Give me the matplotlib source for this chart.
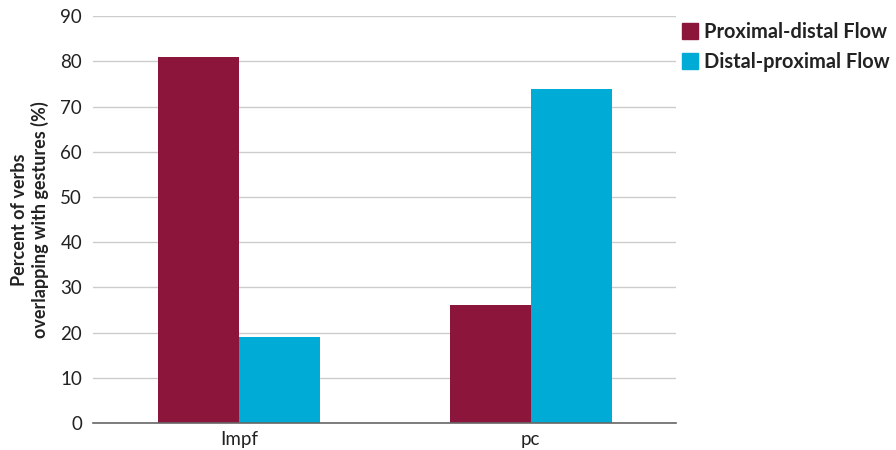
import numpy as np
import matplotlib.pyplot as plt
from matplotlib.lines import Line2D

plt.rcParams['font.family'] = ['Lato', 'DejaVu Sans']

# Data
categories = ['Impf', 'pc']
series_names = ['Proximal-distal Flow', 'Distal-proximal Flow']
proximal_distal = [81, 26]
distal_proximal = [19, 74]
colors = ['#8C153B', '#00ACD6']

fig = plt.figure(figsize=(8.96, 4.5), dpi=100)
ax = fig.add_axes([0.104, 0.06, 0.651, 0.904])

x = np.arange(len(categories))
width = 0.278
ax.bar(x - width / 2, proximal_distal, width, color=colors[0], zorder=3)
ax.bar(x + width / 2, distal_proximal, width, color=colors[1], zorder=3)

ax.set_xlim(-0.5, 1.5)
ax.set_ylim(0, 90)
ax.set_yticks(range(0, 91, 10))
ax.set_xticks(x)
ax.set_xticklabels(categories)
ax.tick_params(axis='both', length=0, labelsize=13.5, colors='#222222')
ax.tick_params(axis='y', pad=8)
ax.tick_params(axis='x', pad=6)
ax.grid(axis='y', color='#cccccc', linewidth=1, zorder=0)
for side in ['top', 'right', 'left']:
    ax.spines[side].set_visible(False)
ax.spines['bottom'].set_color('#666666')
ax.spines['bottom'].set_linewidth(1.2)
ax.spines['bottom'].set_zorder(4)

ax.set_ylabel('Percent of verbs\noverlapping with gestures (%)',
              fontsize=13, fontweight='bold', color='#222222', labelpad=8)

handles = [Line2D([], [], marker='s', linestyle='', markersize=12,
                  markerfacecolor=c, markeredgecolor=c) for c in colors]
leg = fig.legend(handles, series_names, loc='upper left',
                 bbox_to_anchor=(0.737, 0.992), frameon=False,
                 prop={'weight': 'bold', 'size': 14.4},
                 handletextpad=0.1, labelspacing=0.5, handlelength=1.2)
for t in leg.get_texts():
    t.set_color('#222222')

fig.savefig('out.png', dpi=100)
